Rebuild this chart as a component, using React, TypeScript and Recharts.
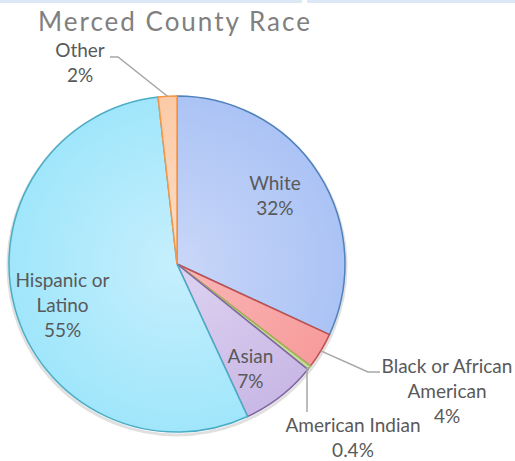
import React from 'react';
import { PieChart, Pie, Cell } from 'recharts';

const categories = ['White', 'Black or African American', 'American Indian', 'Asian', 'Hispanic or Latino', 'Other'];
const values = [31.9, 3.5, 0.4, 7.3, 55.1, 1.8];
const percentLabels = ['32%', '4%', '0.4%', '7%', '55%', '2%'];
const labelLines = [['White'], ['Black or African', 'American'], ['American Indian'], ['Asian'], ['Hispanic or', 'Latino'], ['Other']];

const strokes = ['#4f81bd', '#c0504d', '#9bbb59', '#8064a2', '#4bacc6', '#f79646'];
const innerFills = ['#c9d7f8', '#fab6b6', '#dce8c2', '#ddd3f0', '#c6effd', '#fddfca'];
const outerFills = ['#abc3f5', '#f79c9c', '#c6dc9a', '#c9b8e6', '#a0e6fb', '#fbcaa6'];

const data = categories.map((name, i) => ({ name, value: values[i], pct: percentLabels[i], lines: labelLines[i] }));

const W = 515;
const H = 461;
const CX = 177;
const CY = 264;
const R = 168;
const RAD = Math.PI / 180;
const LABEL_COLOR = '#595959';
const FONT = 'Lato, "Open Sans", sans-serif';
const FS = 19;
const LH = 25;

// per-slice label layout (relative to pie center)
const layouts: any[] = [
  { kind: 'in', rf: 0.72, dx: -4, dy: -3 },
  { kind: 'out', pts: [[191, 108], [203, 108]], tx: 270, ty: 109 },
  { kind: 'out', pts: [[130, 104], [130, 148]], tx: 176, ty: 168 },
  { kind: 'in', rf: 0.72, dx: -1, dy: 9 },
  { kind: 'in', rf: 0.72, dx: 2, dy: 8 },
  { kind: 'out', pts: [[-59, -207], [-67, -207]], tx: -97, ty: -207 },
];

const renderLabel = (props: any) => {
  const { cx, cy, midAngle, outerRadius, index } = props;
  const d = data[index];
  const lay = layouts[index];
  const lines = [...d.lines, d.pct];
  if (lay.kind === 'in') {
    const r = outerRadius * lay.rf;
    const x = cx + r * Math.cos(-midAngle * RAD) + lay.dx;
    const y = cy + r * Math.sin(-midAngle * RAD) + lay.dy;
    const y0 = y - ((lines.length - 1) * LH) / 2 + 7;
    return (
      <text key={`l${index}`} x={x} y={y0} textAnchor="middle" fill={LABEL_COLOR} fontFamily={FONT} fontSize={FS}>
        {lines.map((t: string, i: number) => (
          <tspan key={i} x={x} y={y0 + i * LH}>{t}</tspan>
        ))}
      </text>
    );
  }
  const ex = cx + outerRadius * Math.cos(-midAngle * RAD);
  const ey = cy + outerRadius * Math.sin(-midAngle * RAD);
  const pts = [[ex, ey], ...lay.pts.map((p: number[]) => [cx + p[0], cy + p[1]])];
  const tx = cx + lay.tx;
  const ty = cy + lay.ty;
  return (
    <g key={`l${index}`}>
      <polyline points={pts.map((p) => p.join(',')).join(' ')} fill="none" stroke="#a6a6a6" strokeWidth={1.5} />
      <text x={tx} y={ty} textAnchor="middle" fill={LABEL_COLOR} fontFamily={FONT} fontSize={FS}>
        {lines.map((t: string, i: number) => (
          <tspan key={i} x={tx} y={ty + i * LH}>{t}</tspan>
        ))}
      </text>
    </g>
  );
};

export default function App() {
  return (
    <div style={{ position: 'absolute', left: 0, top: 0, width: W, height: H, background: '#fff', overflow: 'hidden' }}>
      <div style={{ position: 'absolute', left: 0, top: 0, width: 302, height: 3, background: '#dce8f5' }} />
      <div style={{ position: 'absolute', left: 307, top: 0, width: 208, height: 3, background: '#dce8f5' }} />
      <PieChart width={W} height={H} margin={{ top: 0, right: 0, bottom: 0, left: 0 }}>
        <defs>
          {strokes.map((_, i) => (
            <radialGradient key={i} id={`g${i}`} gradientUnits="userSpaceOnUse" cx={CX} cy={CY} r={R}>
              <stop offset="0%" stopColor={innerFills[i]} />
              <stop offset="100%" stopColor={outerFills[i]} />
            </radialGradient>
          ))}
        </defs>
        <circle cx={CX} cy={CY + 2} r={R + 1} fill="none" stroke="#000" strokeOpacity={0.12} strokeWidth={3} />
        <text x={38} y={31} fill="#808080" fontFamily={FONT} fontSize={26} letterSpacing={2}>Merced County Race</text>
        <Pie
          data={data}
          dataKey="value"
          nameKey="name"
          cx={CX}
          cy={CY}
          outerRadius={R}
          startAngle={90}
          endAngle={-270}
          isAnimationActive={false}
          label={renderLabel}
          labelLine={false}
          strokeWidth={1.5}
        >
          {data.map((_, i) => (
            <Cell key={i} fill={`url(#g${i})`} stroke={strokes[i]} />
          ))}
        </Pie>
      </PieChart>
    </div>
  );
}
